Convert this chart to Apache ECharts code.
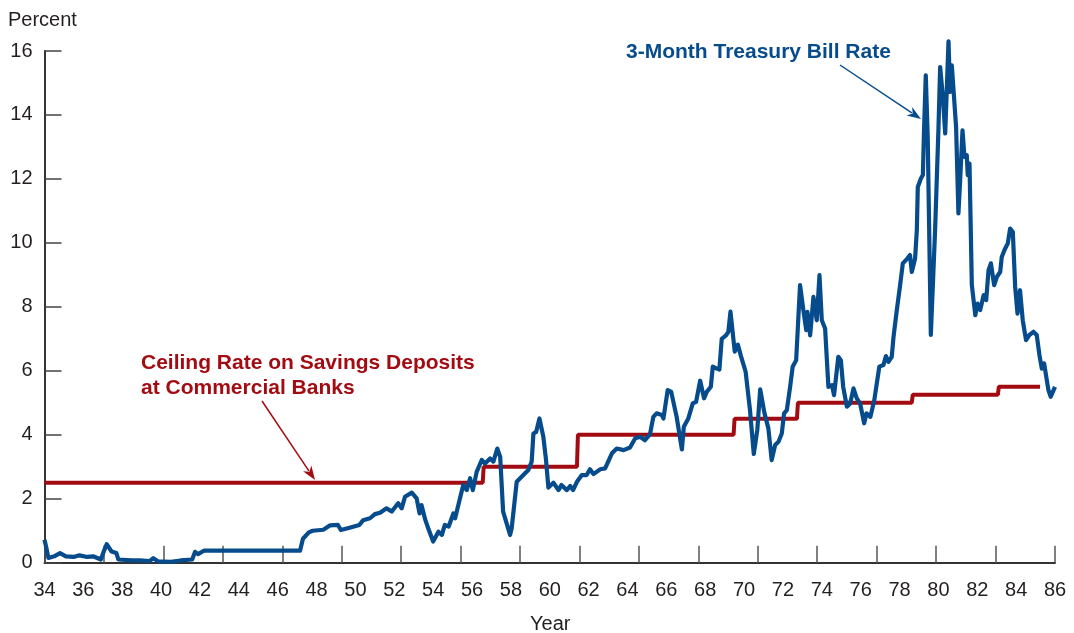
<!DOCTYPE html>
<html>
<head>
<meta charset="utf-8">
<script src="https://cdn.jsdelivr.net/npm/echarts@6/dist/echarts.min.js"></script>
<style>
html,body{margin:0;padding:0;background:#fff;}
#chart{width:1074px;height:633px;}
</style>
</head>
<body>
<div id="chart"></div>
<script>
// ---- Data ----
var xTickLabels = [34,36,38,40,42,44,46,48,50,52,54,56,58,60,62,64,66,68,70,72,74,76,78,80,82,84,86];
var yTickLabels = [0,2,4,6,8,10,12,14,16];

// Ceiling rate on savings deposits (step)
var ceilYears = [34.0, 56.55, 56.6, 61.4, 61.45, 69.46, 69.51, 72.72, 72.77, 78.63, 78.68, 83.06, 83.11, 85.23];
var ceilRates = [2.5, 2.5, 3.0, 3.0, 4.0, 4.0, 4.5, 4.5, 5.0, 5.0, 5.25, 5.25, 5.5, 5.5];

// 3-month Treasury bill rate
var billYears = [34.0,34.1,34.2,34.5,34.8,35.1,35.5,35.8,36.2,36.5,36.9,37.05,37.2,37.45,37.7,37.8,38.5,38.9,39.4,39.6,39.85,40.5,41.0,41.6,41.75,41.9,42.2,47.15,47.3,47.6,47.8,48.35,48.7,49.1,49.25,49.7,50.2,50.4,50.75,51.0,51.27,51.6,51.87,52.2,52.38,52.55,52.9,53.15,53.3,53.4,53.6,53.75,54.0,54.27,54.45,54.6,54.8,55.04,55.13,55.4,55.55,55.73,55.9,56.04,56.24,56.5,56.67,56.93,57.1,57.3,57.45,57.6,57.96,58.04,58.3,58.64,58.9,59.07,59.16,59.3,59.47,59.67,59.8,59.93,60.19,60.45,60.6,60.88,61.05,61.2,61.4,61.65,61.9,62.07,62.25,62.6,62.85,63.2,63.45,63.8,64.13,64.4,64.65,64.9,65.16,65.33,65.5,65.77,65.85,66.07,66.25,66.53,66.8,66.9,67.13,67.36,67.53,67.74,67.94,68.08,68.29,68.39,68.6,68.73,68.85,69.07,69.19,69.3,69.37,69.52,69.68,69.84,70.08,70.3,70.5,70.68,70.83,71.04,71.25,71.42,71.6,71.77,71.94,72.06,72.2,72.37,72.5,72.68,72.88,73.05,73.2,73.26,73.4,73.57,73.74,73.88,74.0,74.17,74.34,74.52,74.63,74.85,74.98,75.1,75.29,75.46,75.63,75.8,75.97,76.18,76.3,76.5,76.7,76.96,77.17,77.3,77.43,77.6,77.69,77.86,78.03,78.17,78.4,78.54,78.63,78.8,78.89,78.94,79.1,79.2,79.26,79.35,79.45,79.61,79.83,80.0,80.09,80.23,80.35,80.43,80.52,80.6,80.69,80.78,80.91,81.03,81.12,81.24,81.34,81.46,81.51,81.6,81.72,81.9,82.02,82.15,82.33,82.46,82.58,82.7,82.87,83.01,83.18,83.26,83.43,83.57,83.69,83.83,83.95,84.07,84.2,84.34,84.51,84.68,84.89,85.06,85.2,85.32,85.44,85.66,85.78,86.0];
var billRates = [0.72,0.45,0.15,0.2,0.3,0.2,0.18,0.23,0.18,0.2,0.1,0.35,0.58,0.35,0.3,0.1,0.07,0.07,0.05,0.14,0.04,0.03,0.07,0.1,0.34,0.27,0.375,0.375,0.75,0.95,1.0,1.03,1.17,1.18,1.02,1.09,1.18,1.33,1.39,1.52,1.56,1.7,1.6,1.86,1.7,2.06,2.19,2.01,1.54,1.8,1.33,1.07,0.66,0.97,0.87,1.18,1.13,1.54,1.39,2.06,2.43,2.27,2.64,2.27,2.84,3.21,3.1,3.26,3.16,3.57,3.31,1.6,0.87,1.07,2.53,2.74,2.9,3.16,4.04,4.09,4.51,3.94,3.26,2.35,2.5,2.27,2.43,2.27,2.4,2.27,2.53,2.74,2.74,2.92,2.77,2.92,2.95,3.42,3.57,3.52,3.6,3.89,3.94,3.83,4.02,4.56,4.67,4.62,4.51,5.4,5.34,4.56,3.54,4.25,4.51,4.98,5.03,5.69,5.14,5.34,5.5,6.13,6.07,6.04,7.0,7.11,7.22,7.85,7.87,6.6,6.82,6.46,5.97,4.8,3.4,4.15,5.42,4.7,4.2,3.21,3.68,3.78,4.04,4.67,4.77,5.5,6.13,6.33,8.68,7.9,7.27,7.84,7.11,8.31,7.58,8.99,7.58,7.32,5.5,5.55,5.24,6.44,6.33,5.5,4.88,4.98,5.45,5.14,4.98,4.36,4.67,4.56,5.08,6.13,6.18,6.46,6.28,6.44,7.06,7.9,8.68,9.36,9.51,9.62,9.09,9.51,10.4,11.75,12.01,12.12,13.52,15.24,13.31,7.12,10.4,13.52,15.5,14.56,13.42,14.77,16.3,14.72,15.55,14.77,13.63,10.92,11.96,13.52,12.69,12.74,12.12,12.48,8.68,7.74,8.1,7.9,8.37,8.21,9.15,9.36,8.68,8.94,9.09,9.56,9.82,9.98,10.45,10.34,8.63,7.79,8.52,7.58,6.96,7.12,7.22,7.12,6.49,6.07,6.23,5.4,5.19,5.5];

// ---- Build ----
function zip(a, b){ var r=[]; for (var i=0;i<a.length;i++) r.push([a[i], b[i]]); return r; }
var FONT = '"Liberation Sans", Arial, Helvetica, sans-serif';
var BLUE = '#064c8d';
var RED = '#a30b12';
var AXIS = '#333333';

function arrow(x1, y1, x2, y2, color){
  var dx = x2-x1, dy = y2-y1, L = Math.sqrt(dx*dx+dy*dy);
  var ux = dx/L, uy = dy/L, hl = 14, hw = 5;
  var bx = x2-ux*hl, by = y2-uy*hl;
  return [
    {type:'line', silent:true, shape:{x1:x1,y1:y1,x2:bx+ux*3,y2:by+uy*3}, style:{stroke:color, lineWidth:1.5}},
    {type:'polygon', silent:true, shape:{points:[[x2,y2],[bx-uy*hw,by+ux*hw],[bx+ux*4,by+uy*4],[bx+uy*hw,by-ux*hw]]}, style:{fill:color}}
  ];
}

var chart = echarts.init(document.getElementById('chart'), null, {renderer:'canvas'});
var graphics = [
  {type:'text', left:8, top:10, style:{text:'Percent', font:'20px '+FONT, fill:'#231f20'}},
  {type:'text', left:530, top:614, style:{text:'Year', font:'20px '+FONT, fill:'#231f20'}},
  {type:'text', left:626, top:42, style:{text:'3-Month Treasury Bill Rate', font:'bold 21px '+FONT, fill:BLUE}},
  {type:'text', left:141, top:351, style:{text:'Ceiling Rate on Savings Deposits\nat Commercial Banks', font:'bold 21px '+FONT, fill:RED, lineHeight:25}}
].concat(arrow(840,65,921,119,BLUE)).concat(arrow(262,401,315,480,RED));

chart.setOption({
  animation:false,
  backgroundColor:'#ffffff',
  grid:{left:44.5, right:19, top:51, bottom:70.3, containLabel:false},
  xAxis:[{
    type:'value', min:34, max:86, interval:2,
    axisLine:{show:true, onZero:false, lineStyle:{color:AXIS, width:2}},
    axisTick:{show:false},
    splitLine:{show:false},
    axisLabel:{margin:18, fontSize:20, fontFamily:FONT, color:'#231f20',
      formatter:function(v){ return xTickLabels.indexOf(v)>=0 ? String(v) : ''; }}
  },{
    type:'value', min:0, max:17, interval:1, position:'bottom',
    axisLine:{show:false}, axisLabel:{show:false}, splitLine:{show:false},
    axisTick:{show:true, inside:true, length:17, lineStyle:{color:'#555', width:1.5}}
  }],
  yAxis:{
    type:'value', min:0, max:16, interval:2,
    axisLine:{show:true, lineStyle:{color:AXIS, width:2}},
    axisTick:{show:true, inside:true, length:17, lineStyle:{color:'#444', width:1.5}},
    splitLine:{show:false},
    axisLabel:{margin:12, fontSize:20, fontFamily:FONT, color:'#231f20',
      formatter:function(v){ return yTickLabels.indexOf(v)>=0 ? String(v) : ''; }}
  },
  graphic:graphics,
  series:[
    {type:'line', xAxisIndex:0, data:zip(ceilYears, ceilRates), showSymbol:false, symbol:'none', clip:false,
     lineStyle:{color:RED, width:4}, z:2},
    {type:'line', xAxisIndex:0, data:zip(billYears, billRates), showSymbol:false, symbol:'none', clip:false,
     lineStyle:{color:BLUE, width:4.2, join:'round'}, z:3}
  ]
});
</script>
</body>
</html>
